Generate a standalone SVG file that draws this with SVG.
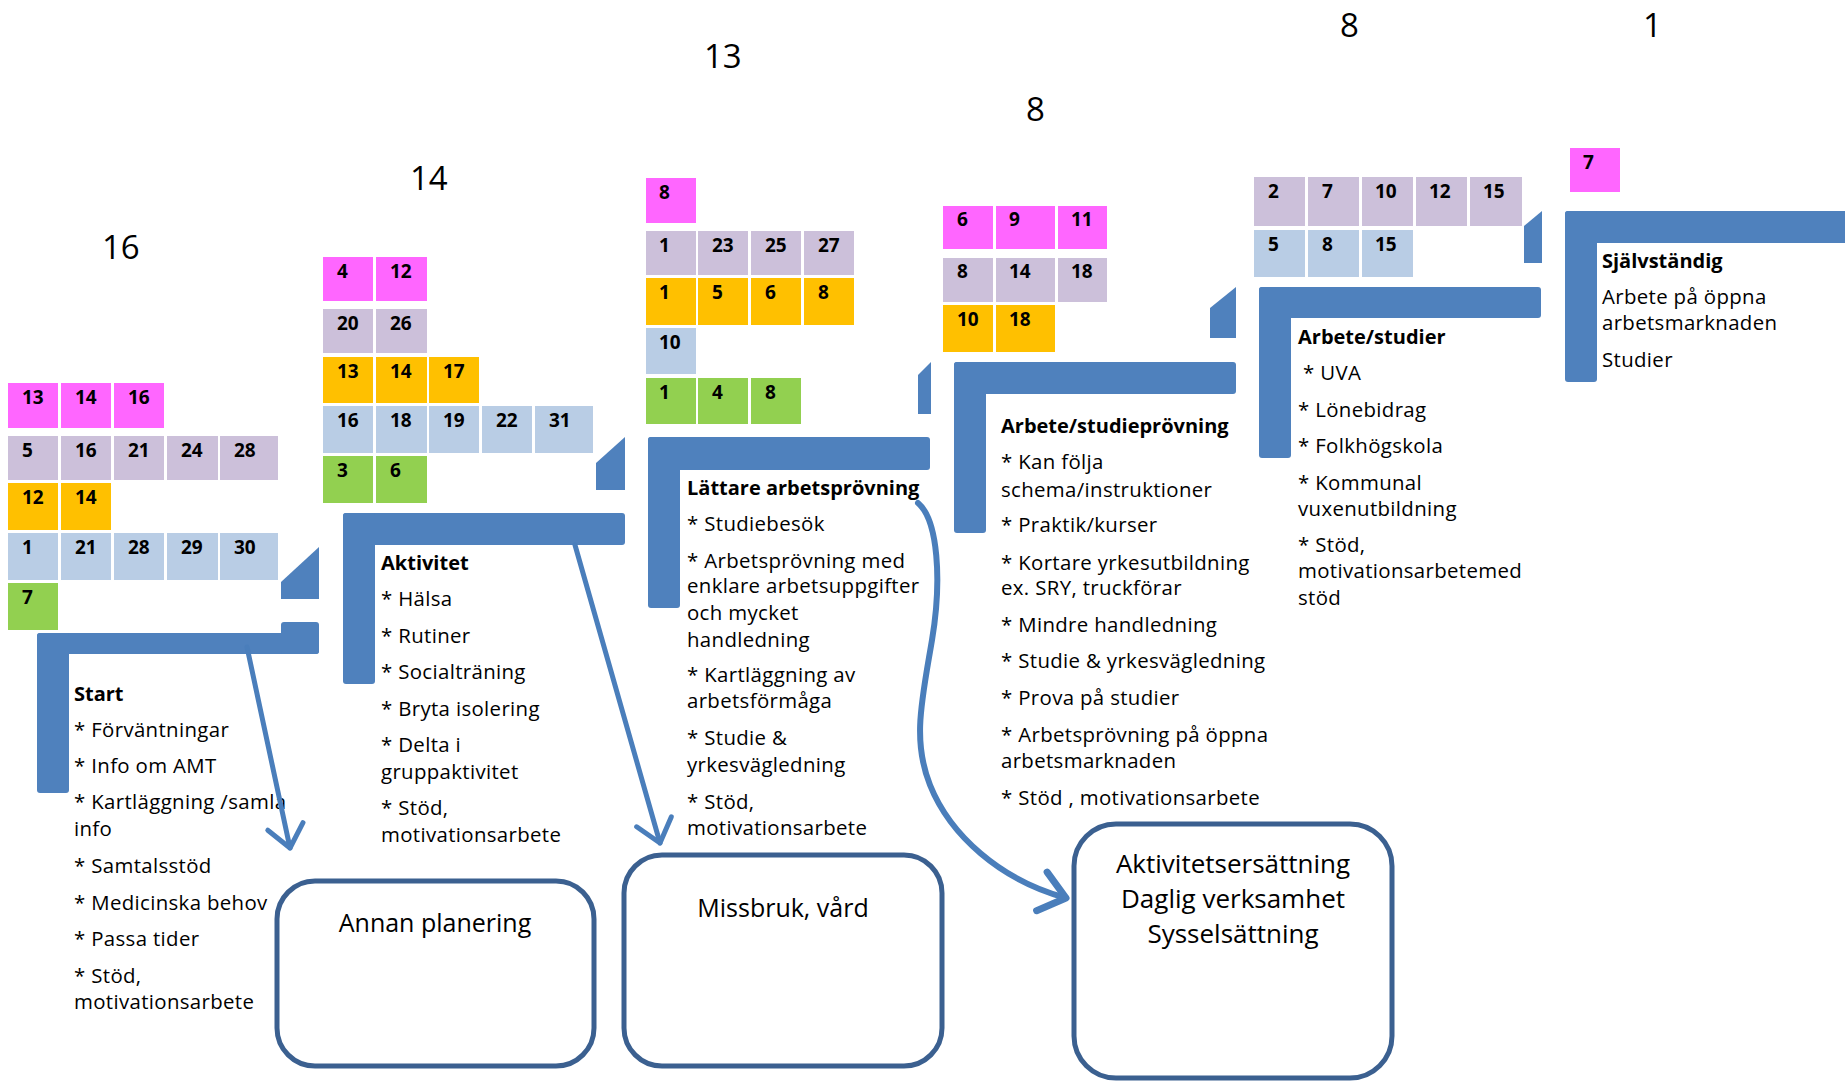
<svg xmlns="http://www.w3.org/2000/svg" width="1845" height="1081" viewBox="0 0 1845 1081">
<style>
.t{font-family:"Open Sans","Liberation Sans",sans-serif;font-size:20.4px;letter-spacing:0.35px;fill:#000}
.h{font-weight:bold;font-size:20px;letter-spacing:0}
.n{font-family:"Open Sans","Liberation Sans",sans-serif;font-size:19px;font-weight:bold;fill:#000}
.big{font-family:"Open Sans","Liberation Sans",sans-serif;font-size:33px;fill:#000}
.bt{font-family:"Open Sans","Liberation Sans",sans-serif;font-size:25px;fill:#000;text-anchor:middle}
.bar{fill:#4F81BD}
.pk{fill:#FF66FF}.lv{fill:#CCC0DA}.or{fill:#FFC000}.lb{fill:#B9CDE5}.gr{fill:#92D050}
.box{fill:#fff;stroke:#3B6090;stroke-width:5}
.arr{fill:none;stroke:#4A7EBB;stroke-width:5;stroke-linecap:round}
</style>
<defs>
<marker id="chev" viewBox="-30 -25 36 50" refX="0" refY="0" markerWidth="36" markerHeight="50" markerUnits="userSpaceOnUse" orient="auto">
<path d="M-22,-18 L0,0 L-22,18" fill="none" stroke="#4A7EBB" stroke-width="5" stroke-linecap="round" stroke-linejoin="round"/>
</marker>
<marker id="chev2" viewBox="-34 -28 40 56" refX="0" refY="0" markerWidth="40" markerHeight="56" markerUnits="userSpaceOnUse" orient="auto">
<path d="M-25,-20 L0,0 L-25,20" fill="none" stroke="#4A7EBB" stroke-width="7" stroke-linecap="round" stroke-linejoin="round"/>
</marker>
</defs>
<rect width="1845" height="1081" fill="#fff"/>

<g id="step1">
<text class="big" x="102" y="259">16</text>
<rect class="pk" x="8" y="383" width="50" height="45"/><text class="n" x="22" y="404">13</text>
<rect class="pk" x="61" y="383" width="50" height="45"/><text class="n" x="75" y="404">14</text>
<rect class="pk" x="114" y="383" width="50" height="45"/><text class="n" x="128" y="404">16</text>
<rect class="lv" x="8" y="436" width="50" height="44"/><text class="n" x="22" y="457">5</text>
<rect class="lv" x="61" y="436" width="50" height="44"/><text class="n" x="75" y="457">16</text>
<rect class="lv" x="114" y="436" width="50" height="44"/><text class="n" x="128" y="457">21</text>
<rect class="lv" x="167" y="436" width="51" height="44"/><text class="n" x="181" y="457">24</text>
<rect class="lv" x="220" y="436" width="58" height="44"/><text class="n" x="234" y="457">28</text>
<rect class="or" x="8" y="483" width="50" height="47"/><text class="n" x="22" y="504">12</text>
<rect class="or" x="61" y="483" width="50" height="47"/><text class="n" x="75" y="504">14</text>
<rect class="lb" x="8" y="533" width="50" height="47"/><text class="n" x="22" y="554">1</text>
<rect class="lb" x="61" y="533" width="50" height="47"/><text class="n" x="75" y="554">21</text>
<rect class="lb" x="114" y="533" width="50" height="47"/><text class="n" x="128" y="554">28</text>
<rect class="lb" x="167" y="533" width="51" height="47"/><text class="n" x="181" y="554">29</text>
<rect class="lb" x="220" y="533" width="58" height="47"/><text class="n" x="234" y="554">30</text>
<rect class="gr" x="8" y="583" width="50" height="47"/><text class="n" x="22" y="604">7</text>
<polygon class="bar" points="281,582 319,547 319,599 281,599"/>
<rect class="bar" x="37" y="633" width="282" height="21" rx="3"/>
<rect class="bar" x="281" y="622" width="38" height="32" rx="3"/>
<rect class="bar" x="37" y="633" width="32" height="160" rx="3"/>
<text class="t h" x="74" y="701">Start</text>
<text class="t" x="74" y="737">* Förväntningar</text>
<text class="t" x="74" y="773">* Info om AMT</text>
<text class="t" x="74" y="809">* Kartläggning /samla</text>
<text class="t" x="74" y="836">info</text>
<text class="t" x="74" y="873">* Samtalsstöd</text>
<text class="t" x="74" y="910">* Medicinska behov</text>
<text class="t" x="74" y="946">* Passa tider</text>
<text class="t" x="74" y="983">* Stöd,</text>
<text class="t" x="74" y="1009">motivationsarbete</text>
</g>

<g id="step2">
<text class="big" x="410" y="190">14</text>
<rect class="pk" x="323" y="257" width="50" height="44"/><text class="n" x="337" y="278">4</text>
<rect class="pk" x="376" y="257" width="51" height="44"/><text class="n" x="390" y="278">12</text>
<rect class="lv" x="323" y="309" width="50" height="44"/><text class="n" x="337" y="330">20</text>
<rect class="lv" x="376" y="309" width="51" height="44"/><text class="n" x="390" y="330">26</text>
<rect class="or" x="323" y="357" width="50" height="46"/><text class="n" x="337" y="378">13</text>
<rect class="or" x="376" y="357" width="51" height="46"/><text class="n" x="390" y="378">14</text>
<rect class="or" x="429" y="357" width="50" height="46"/><text class="n" x="443" y="378">17</text>
<rect class="lb" x="323" y="406" width="50" height="47"/><text class="n" x="337" y="427">16</text>
<rect class="lb" x="376" y="406" width="51" height="47"/><text class="n" x="390" y="427">18</text>
<rect class="lb" x="429" y="406" width="50" height="47"/><text class="n" x="443" y="427">19</text>
<rect class="lb" x="482" y="406" width="50" height="47"/><text class="n" x="496" y="427">22</text>
<rect class="lb" x="535" y="406" width="58" height="47"/><text class="n" x="549" y="427">31</text>
<rect class="gr" x="323" y="456" width="50" height="47"/><text class="n" x="337" y="477">3</text>
<rect class="gr" x="376" y="456" width="51" height="47"/><text class="n" x="390" y="477">6</text>
<polygon class="bar" points="596,463 625,437 625,490 596,490"/>
<rect class="bar" x="343" y="513" width="282" height="32" rx="3"/>
<rect class="bar" x="343" y="513" width="32" height="171" rx="3"/>
<text class="t h" x="381" y="570">Aktivitet</text>
<text class="t" x="381" y="606">* Hälsa</text>
<text class="t" x="381" y="643">* Rutiner</text>
<text class="t" x="381" y="679">* Socialträning</text>
<text class="t" x="381" y="716">* Bryta isolering</text>
<text class="t" x="381" y="752">* Delta i</text>
<text class="t" x="381" y="779">gruppaktivitet</text>
<text class="t" x="381" y="815">* Stöd,</text>
<text class="t" x="381" y="842">motivationsarbete</text>
</g>

<g id="step3">
<text class="big" x="704" y="68">13</text>
<rect class="pk" x="646" y="178" width="50" height="45"/><text class="n" x="659" y="199">8</text>
<rect class="lv" x="646" y="231" width="50" height="44"/><text class="n" x="659" y="252">1</text>
<rect class="lv" x="698" y="231" width="50" height="44"/><text class="n" x="712" y="252">23</text>
<rect class="lv" x="751" y="231" width="50" height="44"/><text class="n" x="765" y="252">25</text>
<rect class="lv" x="804" y="231" width="50" height="44"/><text class="n" x="818" y="252">27</text>
<rect class="or" x="646" y="278" width="50" height="47"/><text class="n" x="659" y="299">1</text>
<rect class="or" x="698" y="278" width="50" height="47"/><text class="n" x="712" y="299">5</text>
<rect class="or" x="751" y="278" width="50" height="47"/><text class="n" x="765" y="299">6</text>
<rect class="or" x="804" y="278" width="50" height="47"/><text class="n" x="818" y="299">8</text>
<rect class="lb" x="646" y="328" width="50" height="46"/><text class="n" x="659" y="349">10</text>
<rect class="gr" x="646" y="378" width="50" height="46"/><text class="n" x="659" y="399">1</text>
<rect class="gr" x="698" y="378" width="50" height="46"/><text class="n" x="712" y="399">4</text>
<rect class="gr" x="751" y="378" width="50" height="46"/><text class="n" x="765" y="399">8</text>
<polygon class="bar" points="918,375 931,362 931,414 918,414"/>
<rect class="bar" x="648" y="437" width="282" height="33" rx="3"/>
<rect class="bar" x="648" y="437" width="32" height="171" rx="3"/>
<text class="t h" x="687" y="495">Lättare arbetsprövning</text>
<text class="t" x="687" y="531">* Studiebesök</text>
<text class="t" x="687" y="568">* Arbetsprövning med</text>
<text class="t" x="687" y="593">enklare arbetsuppgifter</text>
<text class="t" x="687" y="620">och mycket</text>
<text class="t" x="687" y="647">handledning</text>
<text class="t" x="687" y="682">* Kartläggning av</text>
<text class="t" x="687" y="708">arbetsförmåga</text>
<text class="t" x="687" y="745">* Studie &amp;</text>
<text class="t" x="687" y="772">yrkesvägledning</text>
<text class="t" x="687" y="809">* Stöd,</text>
<text class="t" x="687" y="835">motivationsarbete</text>
</g>

<g id="step4">
<text class="big" x="1026" y="121">8</text>
<rect class="pk" x="943" y="206" width="50" height="43"/><text class="n" x="957" y="226">6</text>
<rect class="pk" x="996" y="206" width="59" height="43"/><text class="n" x="1009" y="226">9</text>
<rect class="pk" x="1058" y="206" width="49" height="43"/><text class="n" x="1071" y="226">11</text>
<rect class="lv" x="943" y="258" width="50" height="44"/><text class="n" x="957" y="278">8</text>
<rect class="lv" x="996" y="258" width="59" height="44"/><text class="n" x="1009" y="278">14</text>
<rect class="lv" x="1058" y="258" width="49" height="44"/><text class="n" x="1071" y="278">18</text>
<rect class="or" x="943" y="305" width="50" height="47"/><text class="n" x="957" y="326">10</text>
<rect class="or" x="996" y="305" width="59" height="47"/><text class="n" x="1009" y="326">18</text>
<polygon class="bar" points="1210,308 1236,287 1236,338 1210,338"/>
<rect class="bar" x="954" y="362" width="282" height="32" rx="3"/>
<rect class="bar" x="954" y="362" width="32" height="171" rx="3"/>
<text class="t h" x="1001" y="433">Arbete/studieprövning</text>
<text class="t" x="1001" y="469">* Kan följa</text>
<text class="t" x="1001" y="497">schema/instruktioner</text>
<text class="t" x="1001" y="532">* Praktik/kurser</text>
<text class="t" x="1001" y="570">* Kortare yrkesutbildning</text>
<text class="t" x="1001" y="595">ex. SRY, truckförar</text>
<text class="t" x="1001" y="632">* Mindre handledning</text>
<text class="t" x="1001" y="668">* Studie &amp; yrkesvägledning</text>
<text class="t" x="1001" y="705">* Prova på studier</text>
<text class="t" x="1001" y="742">* Arbetsprövning på öppna</text>
<text class="t" x="1001" y="768">arbetsmarknaden</text>
<text class="t" x="1001" y="805">* Stöd , motivationsarbete</text>
</g>

<g id="step5">
<text class="big" x="1340" y="37">8</text>
<rect class="lv" x="1254" y="177" width="51" height="49"/><text class="n" x="1268" y="198">2</text>
<rect class="lv" x="1308" y="177" width="51" height="49"/><text class="n" x="1322" y="198">7</text>
<rect class="lv" x="1362" y="177" width="51" height="49"/><text class="n" x="1375" y="198">10</text>
<rect class="lv" x="1416" y="177" width="51" height="49"/><text class="n" x="1429" y="198">12</text>
<rect class="lv" x="1470" y="177" width="52" height="49"/><text class="n" x="1483" y="198">15</text>
<rect class="lb" x="1254" y="230" width="51" height="47"/><text class="n" x="1268" y="251">5</text>
<rect class="lb" x="1308" y="230" width="51" height="47"/><text class="n" x="1322" y="251">8</text>
<rect class="lb" x="1362" y="230" width="51" height="47"/><text class="n" x="1375" y="251">15</text>
<polygon class="bar" points="1524,226 1542,211 1542,263 1524,263"/>
<rect class="bar" x="1259" y="287" width="282" height="31" rx="3"/>
<rect class="bar" x="1259" y="287" width="32" height="171" rx="3"/>
<text class="t h" x="1298" y="344">Arbete/studier</text>
<text class="t" x="1303" y="380">* UVA</text>
<text class="t" x="1298" y="417">* Lönebidrag</text>
<text class="t" x="1298" y="453">* Folkhögskola</text>
<text class="t" x="1298" y="490">* Kommunal</text>
<text class="t" x="1298" y="516">vuxenutbildning</text>
<text class="t" x="1298" y="552">* Stöd,</text>
<text class="t" x="1298" y="578">motivationsarbetemed</text>
<text class="t" x="1298" y="605">stöd</text>
</g>

<g id="step6">
<text class="big" x="1643" y="37">1</text>
<rect class="pk" x="1570" y="148" width="50" height="44"/><text class="n" x="1583" y="169">7</text>
<rect class="bar" x="1565" y="211" width="285" height="32" rx="3"/>
<rect class="bar" x="1565" y="211" width="32" height="171" rx="3"/>
<text class="t h" x="1602" y="268">Självständig</text>
<text class="t" x="1602" y="304">Arbete på öppna</text>
<text class="t" x="1602" y="330">arbetsmarknaden</text>
<text class="t" x="1602" y="367">Studier</text>
</g>

<g id="annan">
<rect class="box" x="277" y="881" width="317" height="185" rx="38"/>
<text class="bt" x="435" y="932">Annan planering</text>
</g>
<g id="missbruk">
<rect class="box" x="624" y="855" width="318" height="211" rx="38"/>
<text class="bt" x="783" y="917">Missbruk, vård</text>
</g>
<g id="aktivitetsersattning">
<rect class="box" x="1074" y="824" width="318" height="254" rx="42"/>
<text class="bt" x="1233" y="873" style="font-size:26px">Aktivitetsersättning</text>
<text class="bt" x="1233" y="908" style="font-size:26px">Daglig verksamhet</text>
<text class="bt" x="1233" y="943" style="font-size:26px">Sysselsättning</text>
</g>

<g id="connectors">
<path class="arr" d="M247,647 L290,848" marker-end="url(#chev)"/>
<path class="arr" d="M575,545 L660,843" marker-end="url(#chev)"/>
<path class="arr" style="stroke-width:6" d="M918,503 C938,520 942,580 932,640 C922,700 912,740 930,785 C950,835 1000,880 1066,898" marker-end="url(#chev2)"/>
</g>
</svg>
